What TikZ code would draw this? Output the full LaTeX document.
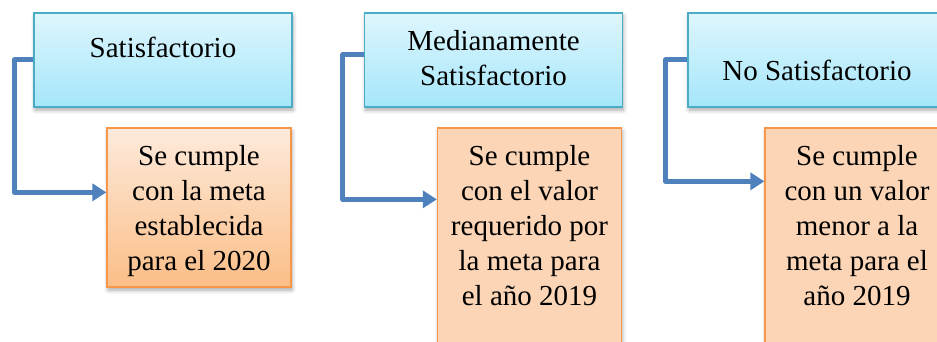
\documentclass[tikz,border=0pt]{standalone}
\usepackage{fontspec}
\setmainfont{Liberation Serif}
\usepackage{xcolor}
\usetikzlibrary{arrows.meta,shadows.blur}
\definecolor{catline}{HTML}{4BACC6}
\definecolor{cattop}{HTML}{DEF6FD}
\definecolor{catbot}{HTML}{A5E6FA}
\definecolor{resline}{HTML}{F79646}
\definecolor{restop}{HTML}{FDEADB}
\definecolor{resbot}{HTML}{FBBE87}
\definecolor{resflat}{HTML}{FBD5B5}
\definecolor{linkblue}{HTML}{4F81BD}
\tikzset{
  cat/.style={draw=catline, line width=1.3pt, top color=cattop, bottom color=catbot,
    minimum width=258pt, minimum height=94pt, inner sep=0pt,
    blur shadow={shadow xshift=1pt, shadow yshift=-3pt, shadow blur radius=4pt, shadow opacity=35}},
  res/.style={draw=resline, line width=1.3pt, fill=resflat,
    minimum width=184pt, minimum height=232pt, inner sep=0pt,
    blur shadow={shadow xshift=1pt, shadow yshift=-3pt, shadow blur radius=4pt, shadow opacity=35}},
  lbl/.style={text=black, font=\fontsize{29}{35}\selectfont, align=center, inner sep=0pt},
  link/.style={draw=linkblue, line width=5pt, line join=round,
    -{Triangle[length=14pt,width=17pt]}}
}

\begin{document}
\begin{tikzpicture}[x=1pt, y=-1pt]
    \useasboundingbox (0,0) rectangle (937,342);

    % --- GROUP 1 ---
    \node[cat] (sat) at (163,60) {};
    \node[res, top color=restop, bottom color=resbot, minimum height=159pt] (res1) at (199,207.5) {};
    \draw[link] (sat.west) -- ++(-19,0) |- ([yshift=-65pt]res1.north west);
    \node[lbl] (sat-t) at (163,47) {Satisfactorio};
    \node[lbl] (res1-t) at (199,211.5) {Se cumple\\con la meta\\establecida\\para el 2020};

    % --- GROUP 2 ---
    \node[cat] (med) at (493.5,60) {};
    \node[res] (res2) at (529.5,244) {};
    \draw[link] ([yshift=5pt]med.west) -- ++(-21,0) |- ([yshift=-72pt]res2.north west);
    \node[lbl] (med-t) at (493.5,58.5) {Medianamente\\Satisfactorio};
    \node[lbl] (res2-t) at (529.5,226) {Se cumple\\con el valor\\requerido por\\la meta para\\el año 2019};

    % --- GROUP 3 ---
    \node[cat] (nosat) at (817,60) {};
    \node[res] (res3) at (857,244) {};
    \draw[link] (nosat.west) -- ++(-22,0) |- ([yshift=-54pt]res3.north west);
    \node[lbl] (nosat-t) at (817,70) {No Satisfactorio};
    \node[lbl] (res3-t) at (857,226) {Se cumple\\con un valor\\menor a la\\meta para el\\año 2019};
\end{tikzpicture}
\end{document}
